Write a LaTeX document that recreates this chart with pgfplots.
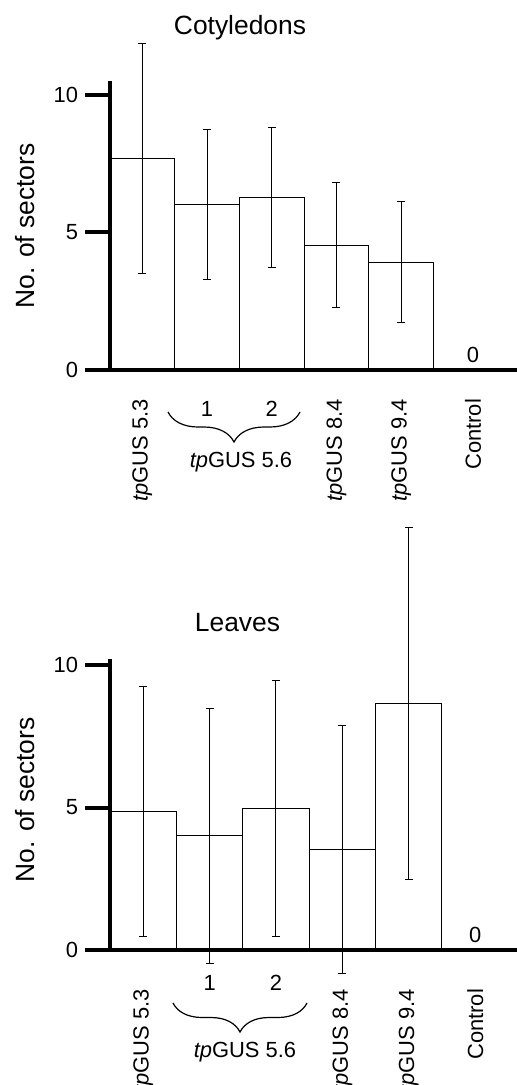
\documentclass[border=0pt]{standalone}
\usepackage{pgfplots}
\pgfplotsset{compat=1.18}
\usepackage{fontspec}
\setmainfont{Liberation Sans}
\usetikzlibrary{decorations.pathreplacing}

% one reference pixel = 0.5bp
\newcommand{\lab}{\fontsize{11}{12}\selectfont}
\newcommand{\ttl}{\fontsize{13.25}{15}\selectfont}

\pgfplotsset{
  /pgf/number format/assume math mode=true,
  secstyle/.style={
    anchor=south west, width=203.5bp, scale only axis,
    xmin=-0.5, ymin=0,
    axis lines=left, axis line style={-, line width=2bp},
    ytick={0,5,10}, tick align=outside, major tick length=12.5bp,
    ytick style={line width=2bp, black},
    xtick style={draw=none},
    tick label style={font=\lab},
    xticklabels={\textit{tp}GUS 5.3, \textit{tp}GUS 8.4, \textit{tp}GUS 9.4, Control},
    clip=false, axis on top,
  },
  secbar/.style={
    ybar, bar width=1, fill=white, draw=black, line width=0.5bp,
    error bars/.cd, y dir=both, y explicit,
    error bar style={line width=0.5bp, black},
    error mark options={rotate=90, mark size=2bp, line width=0.5bp, black},
  },
  zerolabel/.style={draw=none, mark=none, nodes near coords,
    every node near coord/.append style={font=\lab, anchor=south, inner sep=3.5bp}},
}

\begin{document}
\begin{tikzpicture}
% Cotyledons
\begin{axis}[secstyle, at={(55bp,-185bp)}, height=144.4bp, xmax=5.79, ymax=10.5,
  xtick={0,3,4,5.11},
  xticklabel style={yshift=1.5bp, rotate=90, anchor=east}]
\addplot[secbar] coordinates {
  (0,7.68) +- (0,4.18)
  (1,6.02) +- (0,2.72)
  (2,6.28) +- (0,2.55)
  (3,4.53) +- (0,2.27)
  (4,3.92) +- (0,2.20)
};
\addplot[zerolabel] coordinates {(5.11,0)};
\node[font=\lab] at (axis cs:1,0) [yshift=-19.5bp] {1};
\node[font=\lab] at (axis cs:2,0) [yshift=-19.5bp] {2};
\end{axis}
\draw[decorate, decoration={brace, mirror, amplitude=15bp}, line width=0.6bp]
  (84bp,-206bp) -- (150bp,-206bp);
\node[font=\lab] at (120.5bp,-231bp) {\textit{tp}GUS 5.6};
\node[font=\ttl] at (120bp,-14bp) {Cotyledons};
\node[font=\ttl, rotate=90] at (12.5bp,-113bp) {No. of sectors};

% Leaves
\begin{axis}[secstyle, at={(55bp,-475bp)}, height=145.35bp, xmax=5.63, ymax=10.2,
  xtick={0,3,4,5},
  xticklabel style={yshift=-3.5bp, rotate=90, anchor=east}]
\addplot[secbar] coordinates {
  (0,4.86) +- (0,4.40)
  (1,4.01) +- (0,4.47)
  (2,4.96) +- (0,4.50)
  (3,3.53) +- (0,4.34)
  (4,8.64) +- (0,6.17)
};
\addplot[zerolabel] coordinates {(5,0)};
\node[font=\lab] at (axis cs:1,0) [yshift=-16.5bp] {1};
\node[font=\lab] at (axis cs:2,0) [yshift=-16.5bp] {2};
\end{axis}
\draw[decorate, decoration={brace, mirror, amplitude=14.5bp}, line width=0.6bp]
  (86.5bp,-501.5bp) -- (153.5bp,-501.5bp);
\node[font=\lab] at (122.5bp,-526bp) {\textit{tp}GUS 5.6};
\node[font=\ttl] at (118.75bp,-311.5bp) {Leaves};
\node[font=\ttl, rotate=90] at (12.5bp,-400bp) {No. of sectors};

\pgfresetboundingbox
\path[use as bounding box] (0bp,0bp) rectangle (258.5bp,-542.5bp);
\end{tikzpicture}
\end{document}
